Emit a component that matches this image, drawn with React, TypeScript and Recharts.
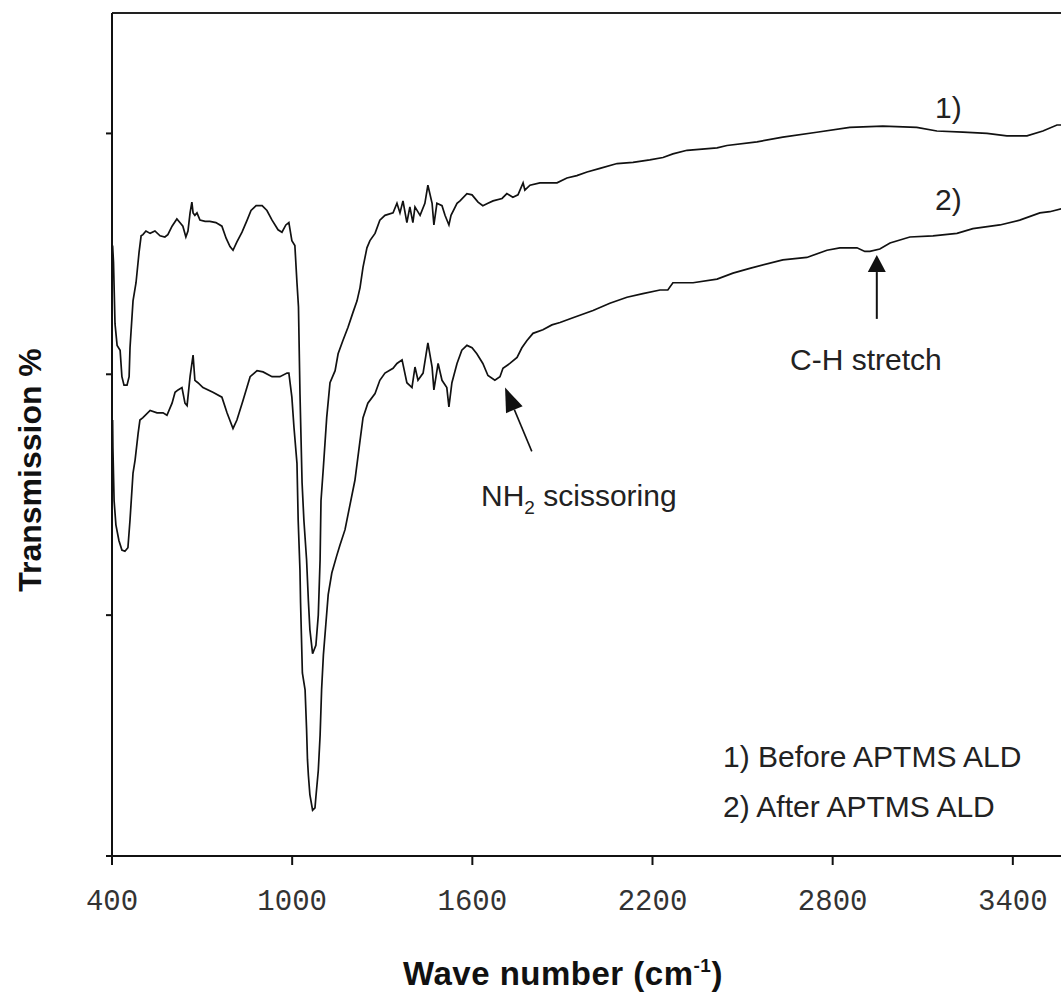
import { Line, LineChart, ReferenceLine, XAxis, YAxis } from "recharts";

// 1) Before APTMS ALD
const beforeWn = [
  402, 405, 410, 417, 427, 433, 440, 450, 457, 460,
  470, 480, 490, 497, 503, 513, 527, 543, 560, 576,
  586, 600, 616, 626, 636, 646, 653, 660, 666, 670,
  676, 683, 693, 710, 726, 746, 766, 780, 793, 803,
  816, 833, 850, 863, 880, 900, 916, 933, 953, 966,
  979, 989, 999, 1009, 1016, 1021, 1026, 1033, 1039, 1048,
  1054, 1059, 1068, 1079, 1087, 1093, 1096, 1104, 1115, 1126,
  1143, 1153, 1169, 1186, 1202, 1216, 1226, 1236, 1249, 1259,
  1276, 1292, 1309, 1336, 1349, 1359, 1369, 1382, 1392, 1402,
  1409, 1426, 1442, 1452, 1466, 1472, 1482, 1499, 1509, 1522,
  1529, 1549, 1559, 1582, 1599, 1619, 1635, 1652, 1669, 1699,
  1715, 1735, 1752, 1769, 1775, 1792, 1825, 1882, 1915, 1948,
  1982, 2025, 2082, 2135, 2191, 2235, 2268, 2315, 2415, 2448,
  2548, 2634, 2747, 2857, 2967, 3080, 3147, 3234, 3314, 3380,
  3447, 3500, 3547, 3570,
];
const beforeT = [
  50.7, 49.3, 44.2, 42.4, 42.0, 39.8, 39.1, 39.1, 39.8, 42.2,
  46.1, 47.6, 50.1, 51.5, 51.6, 51.9, 51.7, 51.9, 51.5, 51.4,
  51.6, 52.3, 52.9, 52.6, 52.3, 51.4, 51.9, 53.4, 54.3, 53.4,
  53.2, 53.4, 52.8, 52.7, 52.7, 52.6, 52.3, 51.3, 50.6, 50.3,
  51.0, 51.8, 52.8, 53.6, 54.0, 54.0, 53.6, 52.8, 52.0, 51.8,
  52.4, 52.6, 51.1, 50.7, 47.6, 45.6, 38.4, 31.0, 27.9, 24.6,
  21.2, 18.8, 16.8, 17.5, 20.0, 24.6, 29.5, 32.3, 36.4, 39.3,
  40.3, 41.7, 42.8, 43.9, 45.1, 46.1, 47.2, 48.9, 50.5, 51.1,
  51.7, 52.8, 53.2, 53.4, 54.2, 53.4, 54.4, 52.6, 53.9, 52.6,
  53.9, 53.2, 54.2, 55.7, 54.2, 52.4, 54.2, 54.0, 53.2, 52.4,
  53.2, 54.2, 54.4, 55.0, 54.9, 54.3, 54.0, 54.2, 54.4, 54.6,
  55.0, 54.7, 54.9, 55.9, 55.3, 55.7, 55.9, 55.9, 56.3, 56.5,
  56.8, 57.1, 57.5, 57.6, 57.8, 58.0, 58.3, 58.6, 58.8, 59.0,
  59.3, 59.7, 60.1, 60.5, 60.6, 60.5, 60.2, 60.1, 60.0, 59.8,
  59.8, 60.2, 60.7, 60.7,
];

// 2) After APTMS ALD
const afterWn = [
  402, 403, 407, 413, 423, 433, 443, 453, 460, 470,
  477, 487, 493, 503, 527, 550, 570, 583, 600, 610,
  620, 633, 643, 650, 660, 670, 676, 686, 703, 736,
  766, 783, 803, 816, 836, 860, 883, 903, 933, 959,
  983, 989, 999, 1006, 1016, 1020, 1026, 1028, 1034, 1043,
  1048, 1051, 1054, 1059, 1068, 1076, 1079, 1087, 1093, 1098,
  1104, 1112, 1120, 1132, 1148, 1159, 1176, 1192, 1209, 1226,
  1236, 1252, 1276, 1292, 1309, 1336, 1349, 1366, 1382, 1399,
  1409, 1419, 1436, 1452, 1466, 1472, 1486, 1499, 1515, 1522,
  1532, 1549, 1565, 1582, 1599, 1615, 1635, 1652, 1675, 1692,
  1702, 1725, 1749, 1765, 1782, 1802, 1835, 1865, 1892, 1935,
  2002, 2058, 2115, 2168, 2225, 2251, 2268, 2335, 2415, 2468,
  2524, 2634, 2714, 2781, 2824, 2881, 2907, 2924, 2957, 2991,
  3057, 3134, 3214, 3267, 3357, 3423, 3490, 3523, 3570,
];
const afterT = [
  36.2, 33.9, 29.5, 27.5, 26.2, 25.4, 25.3, 25.6, 27.9, 31.8,
  32.9, 35.1, 36.2, 36.4, 37.0, 36.8, 36.8, 36.6, 37.6, 38.5,
  38.7, 38.9, 37.6, 37.4, 39.8, 41.6, 39.5, 39.3, 38.9, 38.5,
  38.1, 36.8, 35.5, 36.2, 37.8, 39.8, 40.3, 40.2, 39.8, 39.8,
  40.1, 40.1, 38.1, 35.6, 32.6, 27.9, 23.7, 21.0, 15.2, 13.8,
  10.5, 8.0, 6.7, 5.1, 3.8, 4.0, 4.9, 7.1, 10.0, 13.8,
  16.7, 19.2, 21.7, 23.5, 24.9, 25.8, 27.1, 29.1, 31.2, 34.5,
  36.4, 37.6, 38.4, 39.5, 40.1, 40.5, 40.9, 41.2, 39.3, 38.9,
  40.6, 39.5, 40.1, 42.6, 40.6, 38.7, 40.9, 39.5, 38.9, 37.3,
  39.3, 40.9, 42.0, 42.4, 42.2, 41.7, 40.9, 39.9, 39.5, 39.8,
  40.5, 40.9, 41.4, 42.2, 42.8, 43.4, 43.7, 44.1, 44.3, 44.7,
  45.3, 45.9, 46.4, 46.7, 47.0, 47.0, 47.6, 47.6, 47.9, 48.4,
  48.8, 49.5, 49.7, 50.3, 50.5, 50.5, 50.2, 50.2, 50.4, 50.9,
  51.4, 51.5, 51.7, 52.1, 52.4, 52.8, 53.4, 53.5, 53.8,
];

const xTicks = [400, 1000, 1600, 2200, 2800, 3400];
const yTicks = [0, 20, 40, 60];

// annotation arrows: [tail, tip] in data units
const chArrow = [{ x: 2947, y: 44.6 }, { x: 2947, y: 49.9 }];
const nhArrow = [{ x: 1798, y: 33.6 }, { x: 1709, y: 38.9 }];

const beforeData = beforeWn.map((wn, i) => ({ wn, t: beforeT[i] }));
const afterData = afterWn.map((wn, i) => ({ wn, t: afterT[i] }));

const INK = "#111";
const SANS = "'Liberation Sans', Arial, sans-serif";

function Arrow(props: any) {
  const { x1, y1, x2, y2, head, half, lineWidth } = props;
  const dx = x2 - x1;
  const dy = y2 - y1;
  const len = Math.hypot(dx, dy) || 1;
  const ux = dx / len;
  const uy = dy / len;
  const bx = x2 - ux * head;
  const by = y2 - uy * head;
  const px = -uy * half;
  const py = ux * half;
  return (
    <g>
      <line x1={x1} y1={y1} x2={bx} y2={by} stroke={INK} strokeWidth={lineWidth} />
      <polygon points={`${x2},${y2} ${bx + px},${by + py} ${bx - px},${by - py}`} fill={INK} />
    </g>
  );
}

export default function App() {
  return (
    <div
      style={{
        position: "absolute",
        left: 0,
        top: 0,
        width: 1061,
        height: 994,
        overflow: "hidden",
        background: "#fff",
      }}
    >
      <LineChart width={1203} height={994} margin={{ top: 13, right: 10, left: 0, bottom: 78 }}>
        <XAxis
          type="number"
          dataKey="wn"
          domain={[400, 4000]}
          ticks={xTicks}
          interval={0}
          allowDataOverflow
          height={60}
          tickSize={9}
          tickMargin={24}
          tick={{ fontSize: 29, fill: "#333", fontFamily: "'Liberation Mono', monospace" }}
          tickLine={{ stroke: INK, strokeWidth: 2 }}
          axisLine={{ stroke: INK, strokeWidth: 2 }}
        />
        <YAxis
          type="number"
          domain={[0, 70]}
          ticks={yTicks}
          interval={0}
          allowDataOverflow
          width={112}
          tickSize={6}
          tickFormatter={() => ""}
          tickLine={{ stroke: INK, strokeWidth: 2 }}
          axisLine={{ stroke: INK, strokeWidth: 2 }}
        />
        <ReferenceLine y={70} stroke="#222" strokeWidth={2} ifOverflow="visible" />
        <Line
          data={beforeData}
          dataKey="t"
          type="linear"
          stroke={INK}
          strokeWidth={1.7}
          dot={false}
          isAnimationActive={false}
        />
        <Line
          data={afterData}
          dataKey="t"
          type="linear"
          stroke={INK}
          strokeWidth={1.7}
          dot={false}
          isAnimationActive={false}
        />
        <ReferenceLine
          segment={chArrow}
          ifOverflow="visible"
          shape={(p: any) => <Arrow {...p} head={17} half={9} lineWidth={2} />}
        />
        <ReferenceLine
          segment={nhArrow}
          ifOverflow="visible"
          shape={(p: any) => <Arrow {...p} head={24} half={9} lineWidth={1.6} />}
        />
      </LineChart>
      <svg
        width={1061}
        height={994}
        style={{ position: "absolute", left: 0, top: 0, pointerEvents: "none" }}
        fontFamily={SANS}
      >
        <text
          transform="translate(41,470) rotate(-90)"
          textAnchor="middle"
          fontSize={32}
          fontWeight="bold"
          fill={INK}
        >
          Transmission %
        </text>
        <text x={403} y={985} fontSize={33} fontWeight="bold" letterSpacing={0.5} fill={INK}>
          Wave number (cm
          <tspan fontSize={19} dy={-13}>-1</tspan>
          <tspan dy={13}>)</tspan>
        </text>
        <text x={935} y={118} fontSize={30} fill="#222">1)</text>
        <text x={935} y={210} fontSize={30} fill="#222">2)</text>
        <text x={790} y={370} fontSize={30} fill="#222">C-H stretch</text>
        <text x={481} y={506} fontSize={30} fill="#222">
          NH
          <tspan fontSize={19} dy={8}>2</tspan>
          <tspan dy={-8}> scissoring</tspan>
        </text>
        <text x={723} y={767} fontSize={30} fill="#222">1) Before APTMS ALD</text>
        <text x={723} y={817} fontSize={30} fill="#222">2) After APTMS ALD</text>
      </svg>
    </div>
  );
}
